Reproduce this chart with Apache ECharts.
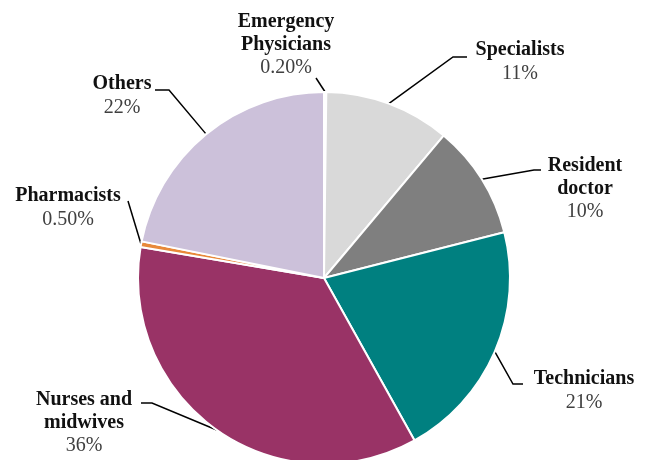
<!DOCTYPE html>
<html>
<head>
<meta charset="utf-8">
<script src="https://cdn.jsdelivr.net/npm/echarts@6/dist/echarts.min.js"></script>
<style>
  html, body { margin: 0; padding: 0; background: #ffffff; }
  #chart { width: 650px; height: 460px; }
</style>
</head>
<body>
<div id="chart"></div>
<script>
// Staff groups and their share of the total (percent)
const categories = [
  'Emergency\nPhysicians',
  'Specialists',
  'Resident\ndoctor',
  'Technicians',
  'Nurses and\nmidwives',
  'Pharmacists',
  'Others'
];
const shares = [0.2, 11, 10, 21, 36, 0.5, 22];
const sliceColors = ['#ffffff', '#d9d9d9', '#7f7f7f', '#008080', '#993366', '#e8893a', '#ccc1da'];

// Label block centres, and leader-line elbow / end points next to each label
const labelSpots = [
  [286, 45], [520, 62], [585, 189], [584, 391], [84, 423], [68, 208], [122, 96]
];
const leaderTails = [
  [[316, 78], [316, 78]],
  [[453, 57], [467, 57]],
  [[534, 170], [541, 170]],
  [[513, 384], [523, 384]],
  [[152, 403], [141, 403]],
  [[128, 201], [128, 201]],
  [[169, 90], [155, 90]]
];

const fmtShare = v => (v < 1 ? v.toFixed(2) : v.toFixed(0)) + '%';

const chart = echarts.init(document.getElementById('chart'), null, { renderer: 'canvas' });

chart.setOption({
  animation: false,
  backgroundColor: '#ffffff',
  series: [{
    type: 'pie',
    center: [324, 278],
    radius: 186,
    startAngle: 90,
    clockwise: true,
    avoidLabelOverlap: false,
    itemStyle: { borderColor: '#ffffff', borderWidth: 2 },
    data: categories.map((name, i) => ({
      name: name,
      value: shares[i],
      itemStyle: { color: sliceColors[i] }
    })),
    label: {
      show: true,
      position: 'outside',
      align: 'center',
      formatter: p => '{n|' + p.name.split('\n').join('}\n{n|') + '}\n{v|' + fmtShare(p.value) + '}',
      rich: {
        n: {
          fontFamily: 'Liberation Serif',
          fontWeight: 'bold',
          fontSize: 20,
          lineHeight: 23,
          color: '#111111',
          align: 'center'
        },
        v: {
          fontFamily: 'Liberation Serif',
          fontSize: 20,
          lineHeight: 24,
          color: '#404040',
          align: 'center'
        }
      }
    },
    labelLine: {
      show: true,
      length: 10,
      length2: 10,
      lineStyle: { color: '#000000', width: 1.5 }
    },
    labelLayout: params => {
      const s = labelSpots[params.dataIndex];
      const tail = leaderTails[params.dataIndex];
      const out = { x: s[0], y: s[1], align: 'center', verticalAlign: 'middle' };
      if (params.labelLinePoints && params.labelLinePoints.length) {
        // start on the slice edge at its mid-angle, as computed by the pie layout
        out.labelLinePoints = [params.labelLinePoints[0], tail[0], tail[1]];
      }
      return out;
    }
  }]
});
</script>
</body>
</html>
